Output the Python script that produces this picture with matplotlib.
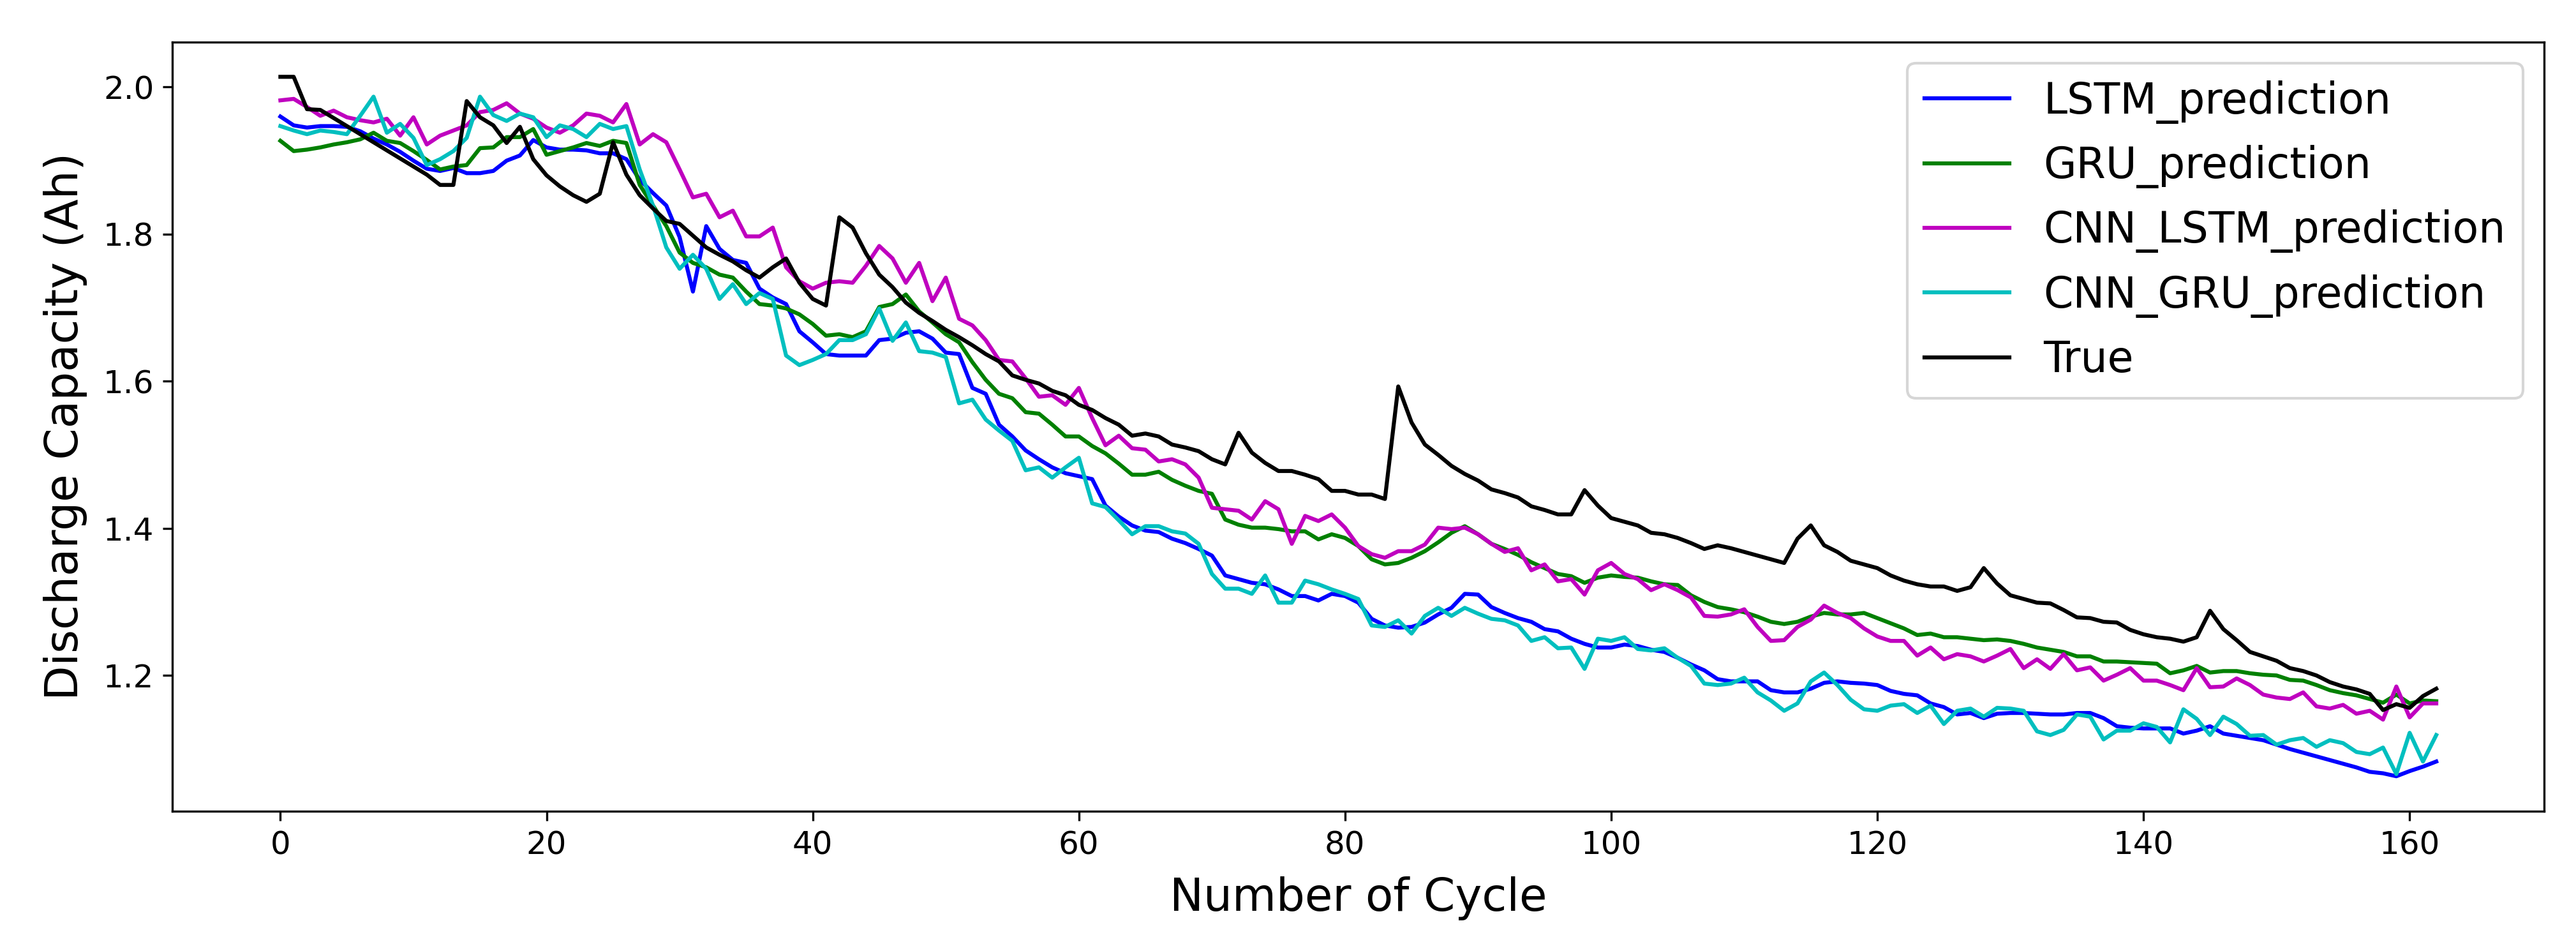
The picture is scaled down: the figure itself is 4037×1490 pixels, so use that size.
import matplotlib
matplotlib.use("Agg")
import matplotlib.pyplot as plt
import numpy as np

# capacity values, one per cycle (0..162)
true_cap = [
    2.014, 2.014, 1.970, 1.969, 1.958, 1.947, 1.936, 1.925, 1.914, 1.903,
    1.892, 1.881, 1.867, 1.867, 1.981, 1.959, 1.948, 1.924, 1.946, 1.902,
    1.880, 1.865, 1.853, 1.844, 1.855, 1.925, 1.881, 1.853, 1.835, 1.818,
    1.814, 1.798, 1.782, 1.772, 1.763, 1.751, 1.741, 1.755, 1.767, 1.734,
    1.712, 1.703, 1.823, 1.809, 1.774, 1.745, 1.728, 1.707, 1.693, 1.682,
    1.670, 1.660, 1.649, 1.637, 1.627, 1.608, 1.602, 1.597, 1.587, 1.581,
    1.568, 1.561, 1.550, 1.541, 1.526, 1.529, 1.525, 1.514, 1.510, 1.505,
    1.494, 1.487, 1.530, 1.503, 1.489, 1.478, 1.478, 1.473, 1.467, 1.451,
    1.451, 1.446, 1.446, 1.440, 1.593, 1.544, 1.514, 1.500, 1.485, 1.474,
    1.465, 1.453, 1.448, 1.442, 1.430, 1.425, 1.419, 1.419, 1.452, 1.431,
    1.414, 1.409, 1.404, 1.394, 1.392, 1.387, 1.380, 1.372, 1.377, 1.373,
    1.368, 1.363, 1.358, 1.353, 1.386, 1.404, 1.377, 1.368, 1.356, 1.351,
    1.346, 1.336, 1.329, 1.324, 1.321, 1.321, 1.315, 1.320, 1.346, 1.325,
    1.309, 1.304, 1.299, 1.298, 1.289, 1.279, 1.278, 1.273, 1.272, 1.262,
    1.256, 1.252, 1.250, 1.246, 1.252, 1.288, 1.263, 1.248, 1.232, 1.226,
    1.220, 1.210, 1.206, 1.200, 1.191, 1.185, 1.181, 1.175, 1.153, 1.161,
    1.156, 1.172, 1.182,
]

lstm_pred = [
    1.960, 1.948, 1.945, 1.947, 1.947, 1.946, 1.940, 1.930, 1.922, 1.912,
    1.900, 1.889, 1.886, 1.890, 1.883, 1.883, 1.886, 1.900, 1.907, 1.928,
    1.918, 1.915, 1.915, 1.914, 1.910, 1.910, 1.902, 1.874, 1.856, 1.839,
    1.796, 1.722, 1.811, 1.780, 1.765, 1.761, 1.726, 1.714, 1.705, 1.668,
    1.653, 1.637, 1.635, 1.635, 1.635, 1.656, 1.658, 1.666, 1.668, 1.658,
    1.639, 1.637, 1.591, 1.583, 1.541, 1.525, 1.506, 1.494, 1.483, 1.475,
    1.471, 1.467, 1.431, 1.416, 1.404, 1.397, 1.395, 1.386, 1.380, 1.372,
    1.363, 1.336, 1.331, 1.326, 1.324, 1.317, 1.308, 1.308, 1.302, 1.311,
    1.308, 1.299, 1.277, 1.268, 1.265, 1.266, 1.272, 1.283, 1.292, 1.311,
    1.310, 1.293, 1.285, 1.278, 1.273, 1.263, 1.260, 1.250, 1.243, 1.238,
    1.238, 1.242, 1.240, 1.235, 1.232, 1.224, 1.215, 1.207, 1.195, 1.192,
    1.192, 1.192, 1.180, 1.177, 1.177, 1.182, 1.190, 1.192, 1.190, 1.189,
    1.187, 1.179, 1.175, 1.173, 1.162, 1.157, 1.147, 1.149, 1.142, 1.148,
    1.149, 1.149, 1.148, 1.147, 1.147, 1.149, 1.149, 1.142, 1.131, 1.129,
    1.128, 1.128, 1.128, 1.121, 1.125, 1.131, 1.121, 1.118, 1.115, 1.112,
    1.106, 1.100, 1.095, 1.090, 1.085, 1.080, 1.075, 1.069, 1.067, 1.063,
    1.070, 1.076, 1.083,
]

gru_pred = [
    1.927, 1.913, 1.915, 1.918, 1.922, 1.925, 1.929, 1.938, 1.927, 1.924,
    1.913, 1.901, 1.888, 1.892, 1.894, 1.917, 1.918, 1.932, 1.932, 1.943,
    1.908, 1.913, 1.918, 1.924, 1.920, 1.927, 1.924, 1.867, 1.839, 1.811,
    1.775, 1.761, 1.755, 1.745, 1.741, 1.722, 1.705, 1.703, 1.699, 1.691,
    1.678, 1.662, 1.664, 1.660, 1.668, 1.701, 1.705, 1.718, 1.695, 1.680,
    1.664, 1.653, 1.626, 1.602, 1.583, 1.577, 1.558, 1.556, 1.541, 1.525,
    1.525, 1.512, 1.502, 1.488, 1.473, 1.473, 1.477, 1.466, 1.458, 1.451,
    1.447, 1.412, 1.405, 1.401, 1.401, 1.399, 1.396, 1.396, 1.385, 1.392,
    1.387, 1.376, 1.358, 1.351, 1.353, 1.360, 1.369, 1.381, 1.394, 1.403,
    1.392, 1.379, 1.372, 1.364, 1.354, 1.346, 1.338, 1.335, 1.326, 1.333,
    1.336, 1.334, 1.333, 1.328, 1.324, 1.323, 1.309, 1.300, 1.293, 1.290,
    1.286, 1.280, 1.273, 1.270, 1.273, 1.280, 1.285, 1.283, 1.283, 1.285,
    1.278, 1.271, 1.264, 1.255, 1.257, 1.252, 1.252, 1.250, 1.248, 1.249,
    1.247, 1.243, 1.238, 1.235, 1.232, 1.226, 1.226, 1.219, 1.219, 1.218,
    1.217, 1.216, 1.203, 1.207, 1.213, 1.204, 1.206, 1.206, 1.203, 1.201,
    1.200, 1.194, 1.193, 1.187, 1.180, 1.176, 1.173, 1.168, 1.163, 1.174,
    1.162, 1.166, 1.165,
]

cnn_lstm_pred = [
    1.982, 1.984, 1.973, 1.961, 1.968, 1.959, 1.955, 1.952, 1.957, 1.934,
    1.959, 1.922, 1.934, 1.941, 1.948, 1.966, 1.969, 1.978, 1.964, 1.957,
    1.945, 1.938, 1.948, 1.964, 1.961, 1.952, 1.977, 1.922, 1.936, 1.925,
    1.888, 1.850, 1.855, 1.823, 1.832, 1.797, 1.797, 1.809, 1.755, 1.736,
    1.726, 1.734, 1.736, 1.734, 1.757, 1.784, 1.767, 1.734, 1.761, 1.709,
    1.741, 1.685, 1.676, 1.656, 1.629, 1.627, 1.604, 1.579, 1.581, 1.568,
    1.591, 1.550, 1.513, 1.526, 1.509, 1.507, 1.491, 1.494, 1.487, 1.469,
    1.428, 1.426, 1.424, 1.412, 1.437, 1.426, 1.379, 1.417, 1.410, 1.419,
    1.401, 1.376, 1.365, 1.360, 1.369, 1.369, 1.378, 1.401, 1.399, 1.401,
    1.392, 1.379, 1.368, 1.373, 1.343, 1.351, 1.328, 1.331, 1.310, 1.343,
    1.353, 1.338, 1.331, 1.316, 1.324, 1.316, 1.306, 1.281, 1.280, 1.283,
    1.290, 1.266, 1.247, 1.248, 1.266, 1.276, 1.295, 1.285, 1.278, 1.264,
    1.253, 1.247, 1.247, 1.227, 1.238, 1.222, 1.229, 1.226, 1.219, 1.227,
    1.236, 1.210, 1.222, 1.209, 1.229, 1.207, 1.211, 1.193, 1.201, 1.210,
    1.193, 1.193, 1.187, 1.180, 1.210, 1.184, 1.185, 1.196, 1.187, 1.174,
    1.170, 1.168, 1.177, 1.158, 1.155, 1.160, 1.148, 1.152, 1.140, 1.185,
    1.143, 1.162, 1.162,
]

cnn_gru_pred = [
    1.947, 1.941, 1.936, 1.941, 1.939, 1.936, 1.961, 1.987, 1.938, 1.950,
    1.931, 1.894, 1.902, 1.913, 1.931, 1.987, 1.962, 1.954, 1.964, 1.959,
    1.932, 1.948, 1.943, 1.932, 1.950, 1.943, 1.947, 1.888, 1.839, 1.782,
    1.753, 1.772, 1.753, 1.712, 1.732, 1.705, 1.720, 1.712, 1.635, 1.622,
    1.629, 1.637, 1.656, 1.656, 1.664, 1.699, 1.655, 1.680, 1.641, 1.639,
    1.633, 1.570, 1.575, 1.548, 1.533, 1.519, 1.479, 1.483, 1.469, 1.483,
    1.496, 1.434, 1.429, 1.411, 1.392, 1.403, 1.403, 1.396, 1.393, 1.379,
    1.338, 1.318, 1.318, 1.311, 1.336, 1.299, 1.299, 1.329, 1.324, 1.317,
    1.311, 1.304, 1.268, 1.266, 1.275, 1.257, 1.281, 1.292, 1.281, 1.292,
    1.284, 1.277, 1.275, 1.268, 1.247, 1.252, 1.237, 1.238, 1.209, 1.250,
    1.247, 1.252, 1.236, 1.234, 1.237, 1.224, 1.213, 1.189, 1.187, 1.189,
    1.197, 1.177, 1.166, 1.152, 1.162, 1.192, 1.204, 1.187, 1.167, 1.154,
    1.152, 1.159, 1.161, 1.149, 1.159, 1.134, 1.152, 1.155, 1.144, 1.156,
    1.155, 1.152, 1.124, 1.119, 1.126, 1.147, 1.144, 1.113, 1.125, 1.125,
    1.135, 1.130, 1.109, 1.154, 1.141, 1.119, 1.144, 1.134, 1.118, 1.119,
    1.106, 1.112, 1.115, 1.103, 1.112, 1.108, 1.096, 1.093, 1.102, 1.066,
    1.122, 1.083, 1.119,
]

cycles = np.arange(len(true_cap))

fig, ax = plt.subplots(figsize=(4037 / 300, 1490 / 300), dpi=300)
fig.subplots_adjust(left=0.067, right=0.9876, top=0.956, bottom=0.147)

ax.plot(cycles, lstm_pred, color='b', label='LSTM_prediction')
ax.plot(cycles, gru_pred, color='g', label='GRU_prediction')
ax.plot(cycles, cnn_lstm_pred, color='m', label='CNN_LSTM_prediction')
ax.plot(cycles, cnn_gru_pred, color='c', label='CNN_GRU_prediction')
ax.plot(cycles, true_cap, color='k', label='True')

ax.tick_params(labelsize=12)
ax.set_xlabel('Number of Cycle', fontsize=17, labelpad=6)
ax.set_ylabel('Discharge Capacity (Ah)', fontsize=17, labelpad=6)
ax.legend(loc='upper right', fontsize=16)

fig.savefig('out.png', dpi=300)
